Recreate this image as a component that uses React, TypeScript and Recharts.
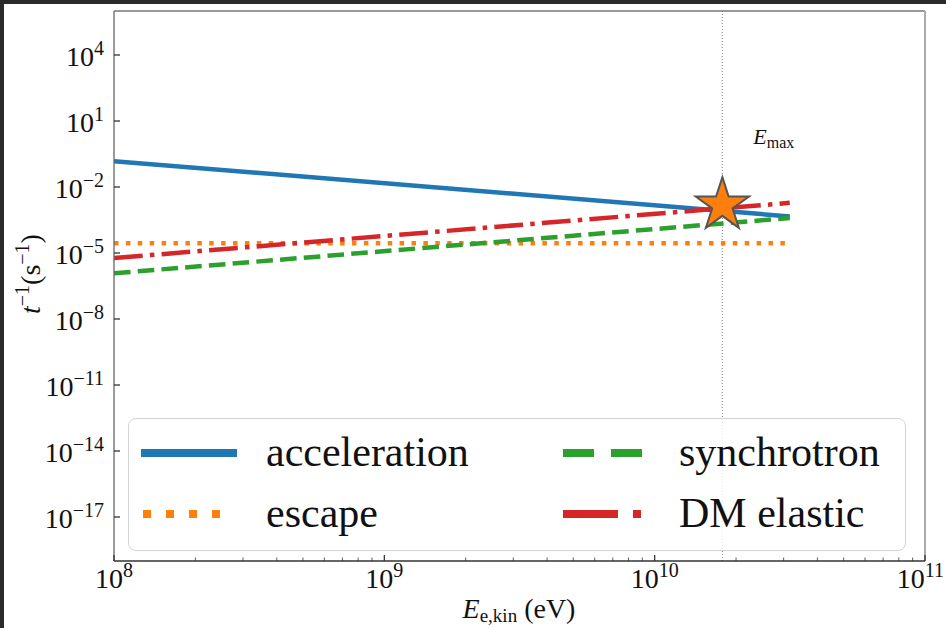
import { ComposedChart, Line, Scatter, XAxis, YAxis, ReferenceLine, Legend } from 'recharts'

// energy range of the curves (eV)
const energyRange = [1e8, 3.16e10]
const accelerationRate = [0.15, 4.6e-4]
const escapeRate = [2.8e-5, 2.8e-5]
const synchrotronRate = [1.2e-6, 3.9e-4]
const dmElasticRate = [5.9e-6, 1.9e-3]

const eMax = 1.78e10
const eMaxRate = 1.5e-3

const xMajorTicks = [1e8, 1e9, 1e10, 1e11]
const xMinorTicks = [8, 9, 10].flatMap((d) => [2, 3, 4, 5, 6, 7, 8, 9].map((m) => m * 10 ** d))
const yTicks = [1e-17, 1e-14, 1e-11, 1e-8, 1e-5, 1e-2, 1e1, 1e4]

const FONT = '"Liberation Serif", "DejaVu Serif", serif'

const toPoints = (ys: number[]) => energyRange.map((x, i) => ({ x, y: ys[i] }))

const series = [
  { name: 'acceleration', color: '#1f77b4', dash: undefined as string | undefined, legendDash: undefined as string | undefined, data: toPoints(accelerationRate) },
  { name: 'escape', color: '#ff7f0e', dash: '4.5 7.4', legendDash: '8 15', data: toPoints(escapeRate) },
  { name: 'synchrotron', color: '#2ca02c', dash: '16.6 7.2', legendDash: '31 17', data: toPoints(synchrotronRate) },
  { name: 'DM elastic', color: '#d62728', dash: '28.8 7.2 4.5 7.2', legendDash: '55 15 8 15', data: toPoints(dmElasticRate) },
]

const expLabel = (v: number) => String(Math.round(Math.log10(v))).replace('-', '\u2212')

function XTick({ x, y, payload }: any) {
  const v = payload.value
  const major = Math.abs(Math.log10(v) - Math.round(Math.log10(v))) < 1e-6
  const last = v >= 1e11
  return (
    <g>
      <line x1={x} x2={x} y1={y} y2={y - (major ? 6 : 3.5)} stroke="#333" strokeWidth={major ? 1.3 : 0.8} />
      {major && (
        <text
          x={last ? x + 19 : x}
          y={y + 27}
          textAnchor={last ? 'end' : 'middle'}
          fontFamily={FONT}
          fontSize={28}
          fill="#111"
        >
          <tspan>10</tspan>
          <tspan dy={-11} fontSize={20}>{expLabel(v)}</tspan>
        </text>
      )}
    </g>
  )
}

function YTick({ x, y, payload }: any) {
  return (
    <g>
      <line x1={x} x2={x + 6} y1={y} y2={y} stroke="#333" strokeWidth={1.3} />
      <text x={x - 10} y={y + 11} textAnchor="end" fontFamily={FONT} fontSize={28} fill="#111">
        <tspan>10</tspan>
        <tspan dy={-11} fontSize={20}>{expLabel(payload.value)}</tspan>
      </text>
    </g>
  )
}

function StarShape({ cx, cy }: any) {
  const R = 28
  const r = R * 0.382
  const pts = Array.from({ length: 10 }, (_, i) => {
    const rad = i % 2 === 0 ? R : r
    const a = -Math.PI / 2 + (i * Math.PI) / 5
    return `${cx + rad * Math.cos(a)},${cy + rad * Math.sin(a)}`
  }).join(' ')
  return <polygon points={pts} fill="#ff7f0e" stroke="#555" strokeWidth={2} strokeLinejoin="miter" />
}

function LegendBox() {
  const rows = [34, 95]
  const cols = [{ h: 12, t: 137 }, { h: 432, t: 550 }]
  return (
    <div
      style={{
        width: 778,
        height: 133,
        background: 'rgba(255,255,255,0.8)',
        border: '1.5px solid #d4d4d4',
        borderRadius: 8,
        boxSizing: 'border-box',
      }}
    >
      <svg width={776} height={130} style={{ display: 'block' }}>
        {series.map((s, i) => {
          const c = cols[Math.floor(i / 2)]
          const yy = rows[i % 2]
          const solid = !s.legendDash
          return (
            <g key={s.name}>
              <line
                x1={solid ? c.h + 4 : c.h + 2}
                x2={solid ? c.h + 92 : c.h + 82}
                y1={yy}
                y2={yy}
                stroke={s.color}
                strokeWidth={8}
                strokeDasharray={s.legendDash}
                strokeLinecap={solid ? 'square' : 'butt'}
              />
              <text x={c.t} y={yy + 13} fontFamily={FONT} fontSize={42} fill="#111">
                {s.name}
              </text>
            </g>
          )
        })}
      </svg>
    </div>
  )
}

export default function App() {
  return (
    <div style={{ position: 'absolute', left: 0, top: 0, width: 946, height: 628, background: '#2b2b2b' }}>
      <div style={{ position: 'absolute', left: 4, top: 4, width: 942, height: 624, background: '#fff' }} />
      <div style={{ position: 'absolute', left: 0, top: 0 }}>
        <ComposedChart width={946} height={628} margin={{ top: 11, right: 21, bottom: 66, left: 113 }}>
          <XAxis
            dataKey="x"
            type="number"
            scale="log"
            domain={[1e8, 1e11]}
            allowDataOverflow
            ticks={[...xMajorTicks, ...xMinorTicks]}
            interval={0}
            height={1}
            tickSize={0}
            tickMargin={0}
            tickLine={false}
            tick={<XTick />}
            axisLine={{ stroke: '#333', strokeWidth: 1.3 }}
            label={{
              content: () => (
                <text x={519} y={618} textAnchor="middle" fontFamily={FONT} fontSize={28} fill="#111">
                  <tspan fontStyle="italic">E</tspan>
                  <tspan dy={4} fontSize={19}>e,kin</tspan>
                  <tspan dy={-4}> (eV)</tspan>
                </text>
              ),
            }}
          />
          <YAxis
            type="number"
            scale="log"
            domain={[1e-19, 1e6]}
            allowDataOverflow
            ticks={yTicks}
            interval={0}
            width={1}
            tickSize={0}
            tickMargin={0}
            tickLine={false}
            tick={<YTick />}
            axisLine={{ stroke: '#666', strokeWidth: 1.3 }}
            label={{
              content: () => (
                <text
                  x={40}
                  y={274}
                  transform="rotate(-90 40 274)"
                  textAnchor="middle"
                  fontFamily={FONT}
                  fontSize={28}
                  fill="#111"
                >
                  <tspan fontStyle="italic">t</tspan>
                  <tspan dy={-11} fontSize={20}>{'\u22121'}</tspan>
                  <tspan dy={11}>(s</tspan>
                  <tspan dy={-11} fontSize={20}>{'\u22121'}</tspan>
                  <tspan dy={11}>)</tspan>
                </text>
              ),
            }}
          />
          <ReferenceLine y={1e6} stroke="#777" strokeWidth={1.3} />
          <ReferenceLine x={1e11} stroke="#aaa" strokeWidth={2} />
          <ReferenceLine
            x={eMax}
            stroke="#777"
            strokeWidth={0.9}
            strokeDasharray="1 2"
            label={{
              content: ({ viewBox }: any) => (
                <text x={viewBox.x + 31} y={144} fontFamily={FONT} fontSize={22} fill="#111">
                  <tspan fontStyle="italic">E</tspan>
                  <tspan dy={4} fontSize={16}>max</tspan>
                </text>
              ),
            }}
          />
          {series.map((s) => (
            <Line
              key={s.name}
              data={s.data}
              dataKey="y"
              name={s.name}
              stroke={s.color}
              strokeWidth={4.5}
              strokeDasharray={s.dash}
              dot={false}
              activeDot={false}
              isAnimationActive={false}
            />
          ))}
          <Scatter data={[{ x: eMax, y: eMaxRate }]} dataKey="y" shape={<StarShape />} isAnimationActive={false} legendType="none" />
          <Legend
            layout="horizontal"
            verticalAlign="middle"
            align="center"
            content={<LegendBox />}
            wrapperStyle={{ left: 128, top: 418, width: 778, height: 133, margin: 0 }}
          />
        </ComposedChart>
      </div>
    </div>
  )
}
